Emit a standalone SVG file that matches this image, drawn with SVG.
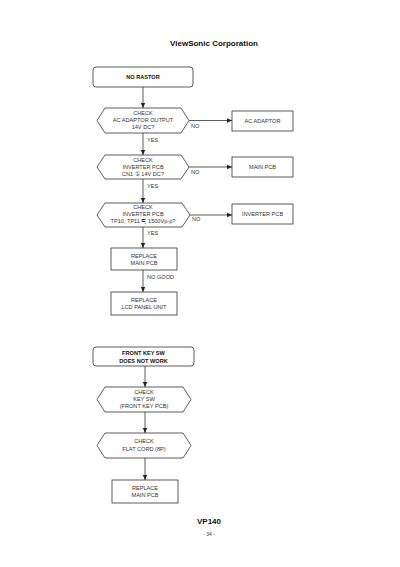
<svg xmlns="http://www.w3.org/2000/svg" width="400" height="567" viewBox="0 0 400 567">
<defs>
<marker id="ah" markerWidth="6" markerHeight="6" refX="5" refY="3" orient="auto" markerUnits="userSpaceOnUse">
<path d="M0,0.8 L5,3 L0,5.2 Z" fill="#222"/>
</marker>
<style>
.box{fill:#fff;stroke:#333;stroke-width:0.8}
.t{font-family:"Liberation Sans",Arial,sans-serif;font-size:5.6px;fill:#333;text-anchor:middle}
.b{font-weight:bold;fill:#111}
.l{font-family:"Liberation Sans",Arial,sans-serif;font-size:5.6px;fill:#333}
.c{stroke:#333;stroke-width:0.8;fill:none;marker-end:url(#ah)}
</style>
</defs>
<rect width="400" height="567" fill="#fff"/>
<text x="214" y="46" class="t b" style="font-size:8px">ViewSonic Corporation</text>

<g id="connectors">
<line x1="143" y1="87" x2="143" y2="108" class="c"/>
<line x1="189" y1="120.5" x2="232" y2="120.5" class="c"/>
<line x1="143" y1="133" x2="143" y2="155" class="c"/>
<line x1="189" y1="167" x2="232" y2="167" class="c"/>
<line x1="143" y1="179" x2="143" y2="203" class="c"/>
<line x1="190" y1="215" x2="232" y2="215" class="c"/>
<line x1="143" y1="227" x2="143" y2="248" class="c"/>
<line x1="143" y1="270" x2="143" y2="292" class="c"/>
<line x1="145" y1="366" x2="145" y2="387" class="c"/>
<line x1="145" y1="412" x2="145" y2="433" class="c"/>
<line x1="145" y1="458" x2="145" y2="480" class="c"/>
<text x="191" y="128" class="l">NO</text>
<text x="147" y="142" class="l">YES</text>
<text x="191" y="174" class="l">NO</text>
<text x="147" y="188" class="l">YES</text>
<text x="192" y="221" class="l">NO</text>
<text x="147" y="235" class="l">YES</text>
<text x="147" y="279" class="l">NO GOOD</text>
</g>

<g id="n1"><rect x="93" y="67" width="100" height="20" rx="3" class="box"/>
<text x="143" y="79" class="t b">NO RASTOR</text></g>

<g id="n2"><polygon points="97,120.5 105,108 181,108 189,120.5 181,133 105,133" class="box"/>
<text x="143" y="115" class="t">CHECK</text>
<text x="143" y="122" class="t">AC ADAPTOR OUTPUT</text>
<text x="143" y="129" class="t">14V DC?</text></g>

<g id="n3"><rect x="232" y="111" width="61" height="20" class="box"/>
<text x="262.5" y="123" class="t">AC ADAPTOR</text></g>

<g id="n4"><polygon points="97,167 105,155 181,155 189,167 181,179 105,179" class="box"/>
<text x="143" y="162" class="t">CHECK</text>
<text x="143" y="169" class="t">INVERTER PCB</text>
<text x="143" y="176" class="t">CN1 ① 14V DC?</text></g>

<g id="n5"><rect x="232" y="157" width="61" height="20" class="box"/>
<text x="262.5" y="169" class="t">MAIN PCB</text></g>

<g id="n6"><polygon points="97,215 105,203 182,203 190,215 182,227 105,227" class="box"/>
<text x="143" y="209" class="t">CHECK</text>
<text x="143" y="216" class="t">INVERTER PCB</text>
<text x="143" y="223" class="t">TP10, TP11 ≒ 1500Vp-p?</text></g>

<g id="n7"><rect x="232" y="204" width="61" height="20" class="box"/>
<text x="262.5" y="216" class="t">INVERTER PCB</text></g>

<g id="n8"><rect x="111" y="248" width="66" height="22" class="box"/>
<text x="144" y="257.5" class="t">REPLACE</text>
<text x="144" y="265" class="t">MAIN PCB</text></g>

<g id="n9"><rect x="111" y="292" width="66" height="23" class="box"/>
<text x="144" y="301.5" class="t">REPLACE</text>
<text x="144" y="309" class="t">LCD PANEL UNIT</text></g>

<g id="n10"><rect x="93" y="347" width="101" height="19" rx="3" class="box"/>
<text x="143.5" y="355" class="t b">FRONT KEY SW</text>
<text x="143.5" y="362.5" class="t b">DOES NOT WORK</text></g>

<g id="n11"><polygon points="97,399.5 105,387 183,387 191,399.5 183,412 105,412" class="box"/>
<text x="144" y="394" class="t">CHECK</text>
<text x="144" y="401" class="t">KEY SW</text>
<text x="144" y="408" class="t">(FRONT KEY PCB)</text></g>

<g id="n12"><polygon points="97,445.5 105,433 183,433 191,445.5 183,458 105,458" class="box"/>
<text x="144" y="443" class="t">CHECK</text>
<text x="144" y="450.5" class="t">FLAT CORD (8P)</text></g>

<g id="n13"><rect x="112" y="480" width="66" height="23" class="box"/>
<text x="145" y="489.5" class="t">REPLACE</text>
<text x="145" y="497" class="t">MAIN PCB</text></g>

<text x="209" y="524" class="t b" style="font-size:8px">VP140</text>
<text x="209" y="536" class="t" style="font-size:5px">- 34 -</text>
</svg>
